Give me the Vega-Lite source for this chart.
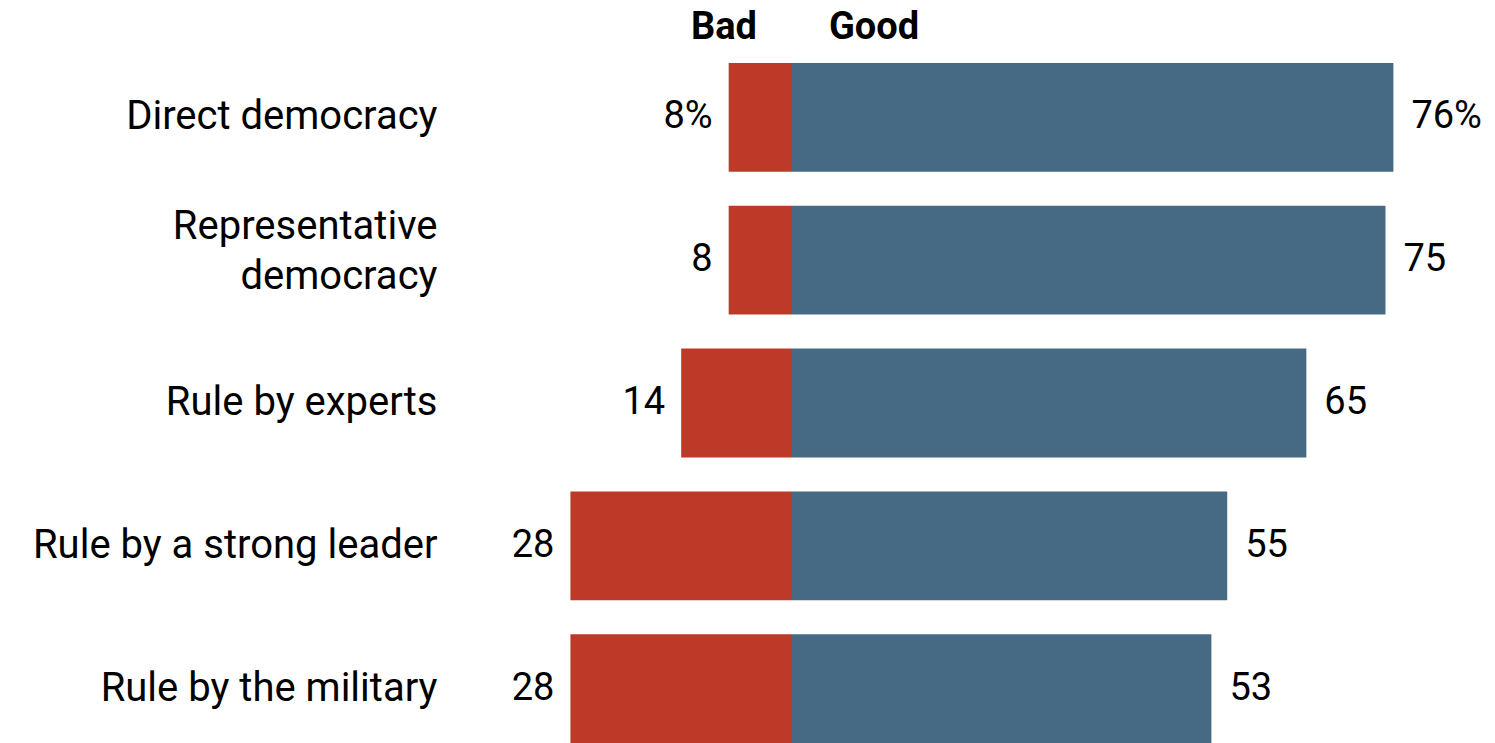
{
  "$schema": "https://vega.github.io/schema/vega-lite/v6.json",
  "width": 1025,
  "height": 680,
  "autosize": {"type": "none"},
  "padding": {"left": 470, "top": 63, "right": 0, "bottom": 0},
  "background": "white",
  "config": {
    "view": {"stroke": null},
    "font": "Roboto",
    "axis": {"domain": false, "ticks": false, "grid": false, "title": null}
  },
  "data": {
    "values": [
      {"category": "Direct democracy", "response": "Bad", "value": -8, "label": "8%"},
      {"category": "Direct democracy", "response": "Good", "value": 76, "label": "76%"},
      {"category": "Representative democracy", "response": "Bad", "value": -8, "label": "8"},
      {"category": "Representative democracy", "response": "Good", "value": 75, "label": "75"},
      {"category": "Rule by experts", "response": "Bad", "value": -14, "label": "14"},
      {"category": "Rule by experts", "response": "Good", "value": 65, "label": "65"},
      {"category": "Rule by a strong leader", "response": "Bad", "value": -28, "label": "28"},
      {"category": "Rule by a strong leader", "response": "Good", "value": 55, "label": "55"},
      {"category": "Rule by the military", "response": "Bad", "value": -28, "label": "28"},
      {"category": "Rule by the military", "response": "Good", "value": 53, "label": "53"}
    ]
  },
  "encoding": {
    "y": {
      "field": "category",
      "type": "nominal",
      "sort": null,
      "scale": {"paddingInner": 0.238, "paddingOuter": 0},
      "axis": {
        "orient": "left",
        "labelFontSize": 40,
        "labelColor": "#000000",
        "labelAlign": "right",
        "labelPadding": 33,
        "labelLimit": 600,
        "labelLineHeight": 50,
        "labelExpr": "datum.value == 'Representative democracy' ? ['Representative', 'democracy'] : datum.value",
        "labelOffset": {
          "condition": {"test": "datum.value == 'Representative democracy'", "value": -33},
          "value": 0
        }
      }
    },
    "x": {
      "field": "value",
      "type": "quantitative",
      "scale": {"domain": [-40.69, 88.84], "nice": false, "zero": false},
      "axis": {
        "orient": "top",
        "values": [-8.66, 10.3],
        "labelExpr": "datum.value < 0 ? 'Bad' : 'Good'",
        "labelFontSize": 38,
        "labelFontWeight": "bold",
        "labelColor": "#000000",
        "labelBaseline": "alphabetic",
        "labelPadding": 25,
        "labelAlign": "center",
        "labelFlush": false
      }
    }
  },
  "layer": [
    {
      "mark": {"type": "bar"},
      "encoding": {
        "color": {
          "field": "response",
          "type": "nominal",
          "scale": {"domain": ["Bad", "Good"], "range": ["#BD3A28", "#476A84"]},
          "legend": null
        }
      }
    },
    {
      "transform": [{"filter": "datum.response == 'Bad'"}],
      "mark": {"type": "text", "align": "right", "baseline": "middle", "dx": -16, "fontSize": 38, "color": "#000000"},
      "encoding": {"text": {"field": "label"}}
    },
    {
      "transform": [{"filter": "datum.response == 'Good'"}],
      "mark": {"type": "text", "align": "left", "baseline": "middle", "dx": 18, "fontSize": 38, "color": "#000000"},
      "encoding": {"text": {"field": "label"}}
    }
  ]
}
